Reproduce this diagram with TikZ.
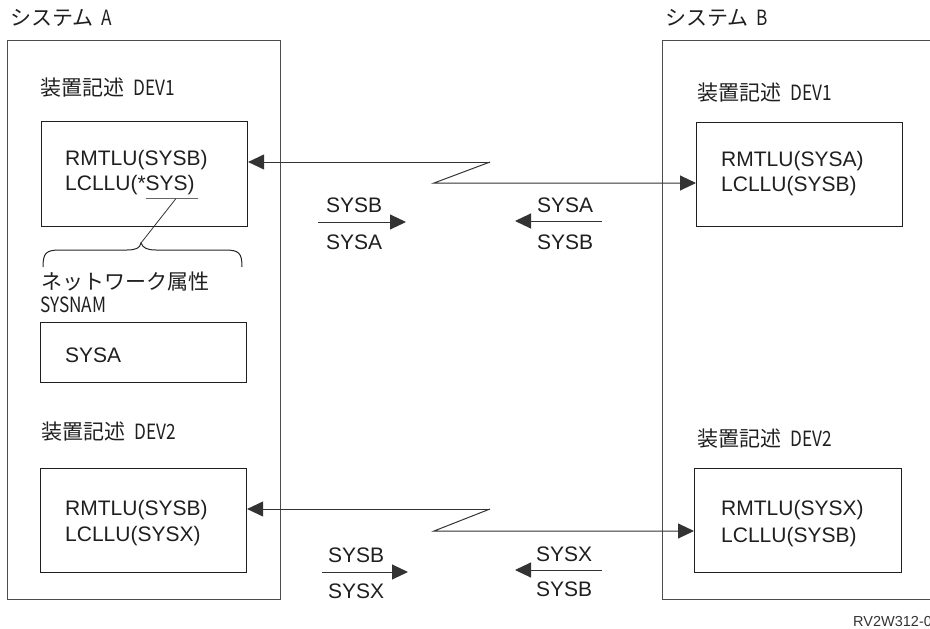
\documentclass[tikz,border=0pt]{standalone}
\usepackage{fontspec}
\usepackage{graphicx}
\setmainfont{Liberation Sans}
\newfontfamily\jpfont{Noto Sans CJK JP}
\usetikzlibrary{arrows.meta}
\newcommand{\cnd}[1]{\scalebox{0.82}[1]{#1}}
\tikzset{
  outerbox/.style={draw=black!70, line width=1.2pt, anchor=north west, inner sep=0pt},
  innerbox/.style={draw=black!88, line width=1.1pt, anchor=north west, inner sep=0pt},
  lbl/.style={anchor=base west, inner sep=0pt, font=\fontsize{21pt}{25pt}\selectfont, text=black!88},
  jlbl/.style={anchor=base west, inner sep=0pt, font=\jpfont\fontsize{21pt}{25pt}\selectfont, text=black!88},
  link/.style={draw=black!80, line width=1pt},
  tip/.style={-{Triangle[length=16pt,width=15pt]}},
}
\begin{document}
\begin{tikzpicture}[x=1pt,y=-1pt]
\useasboundingbox (0,0) rectangle (930,629);

% outer system boxes
\node[outerbox, minimum width=273pt, minimum height=559pt] (sysA) at (7,40) {};
\node[outerbox, minimum width=300pt, minimum height=559pt] (sysB) at (662,40) {};
\node[jlbl] (titleA) at (10,25) {システム\hspace{8pt}\cnd{A}};
\node[jlbl] (titleB) at (665,25) {システム\hspace{8pt}\cnd{B}};

% system A contents
\node[jlbl] (labA1) at (40,95) {装置記述\hspace{9pt}\cnd{DEV1}};
\node[innerbox, minimum width=206pt, minimum height=105pt] (devA1) at (41,121) {};
\node[lbl] (a1r) at (65,165) {RMTLU(SYSB)};
\node[lbl] (a1l) at (65,190) {LCLLU(*SYS)};
\coordinate (ul1) at (146,198.5);
\coordinate (ul2) at (198,198.5);
\draw[draw=black!60, line width=1.1pt] (ul1) -- (ul2);
\coordinate (bracetip) at (141,243);
\coordinate (ulmid) at (176,198.5);
\draw[draw=black!80, line width=0.8pt] (ulmid) -- (bracetip);
\draw[draw=black!85, line width=1pt]
  (43,267) .. controls (43,253) and (46,250) .. (60,250) -- (127,250)
  .. controls (136,250) and (140,248) .. (bracetip)
  .. controls (143,248) and (147,250) .. (156,250) -- (225,250)
  .. controls (239,250) and (242,253) .. (242,267);
\node[jlbl] (netattr) at (41,289) {ネットワーク属性};
\node[jlbl] (sysnam) at (40,312.5) {\cnd{SYSNAM}};
\node[innerbox, minimum width=206pt, minimum height=60pt] (sysabox) at (40,322) {};
\node[lbl] (sysatext) at (65,362) {SYSA};

\node[jlbl] (labA2) at (41,439) {装置記述\hspace{9pt}\cnd{DEV2}};
\node[innerbox, minimum width=206pt, minimum height=104pt] (devA2) at (40,468) {};
\node[lbl] (a2r) at (65,515) {RMTLU(SYSB)};
\node[lbl] (a2l) at (65,541) {LCLLU(SYSX)};

% system B contents
\node[jlbl] (labB1) at (697,100) {装置記述\hspace{9pt}\cnd{DEV1}};
\node[innerbox, minimum width=206pt, minimum height=104pt] (devB1) at (696,122) {};
\node[lbl] (b1r) at (721,166) {RMTLU(SYSA)};
\node[lbl] (b1l) at (721,191) {LCLLU(SYSB)};

\node[jlbl] (labB2) at (697,446) {装置記述\hspace{9pt}\cnd{DEV2}};
\node[innerbox, minimum width=207pt, minimum height=104pt] (devB2) at (694,468) {};
\node[lbl] (b2r) at (721,515) {RMTLU(SYSX)};
\node[lbl] (b2l) at (721,542) {LCLLU(SYSB)};

% top link
\coordinate (z1a) at (490,162);
\coordinate (z1b) at (434,183);
\draw[link, tip] (z1a) -- (z1a -| devA1.east);
\draw[link, tip] (z1a) -- (z1b) -- (z1b -| devB1.west);

% bottom link
\coordinate (z2a) at (490,509);
\coordinate (z2b) at (434,531);
\draw[link, tip] (z2a) -- (z2a -| devA2.east);
\draw[link, tip] (z2a) -- (z2b) -- (z2b -| devB2.west);

% top flow labels
\node[lbl] (t1a) at (326,212) {SYSB};
\node[lbl] (t1b) at (326,249) {SYSA};
\coordinate (t1s) at (318,222);
\coordinate (t1e) at (406,222);
\draw[link, tip] (t1s) -- (t1e);
\node[lbl] (t2a) at (537,212) {SYSA};
\node[lbl] (t2b) at (537,249) {SYSB};
\coordinate (t2s) at (602,221);
\coordinate (t2e) at (515,221);
\draw[link, tip] (t2s) -- (t2e);

% bottom flow labels
\node[lbl] (u1a) at (328,562) {SYSB};
\node[lbl] (u1b) at (328,598) {SYSX};
\coordinate (u1s) at (322,572);
\coordinate (u1e) at (408,572);
\draw[link, tip] (u1s) -- (u1e);
\node[lbl] (u2a) at (536,561) {SYSX};
\node[lbl] (u2b) at (536,596) {SYSB};
\coordinate (u2s) at (602,570);
\coordinate (u2e) at (515,570);
\draw[link, tip] (u2s) -- (u2e);

% figure id
\node[anchor=base west, inner sep=0pt, font=\fontsize{14.5pt}{17pt}\selectfont, text=black!80] (figid) at (853,626) {RV2W312-0};
\end{tikzpicture}
\end{document}
